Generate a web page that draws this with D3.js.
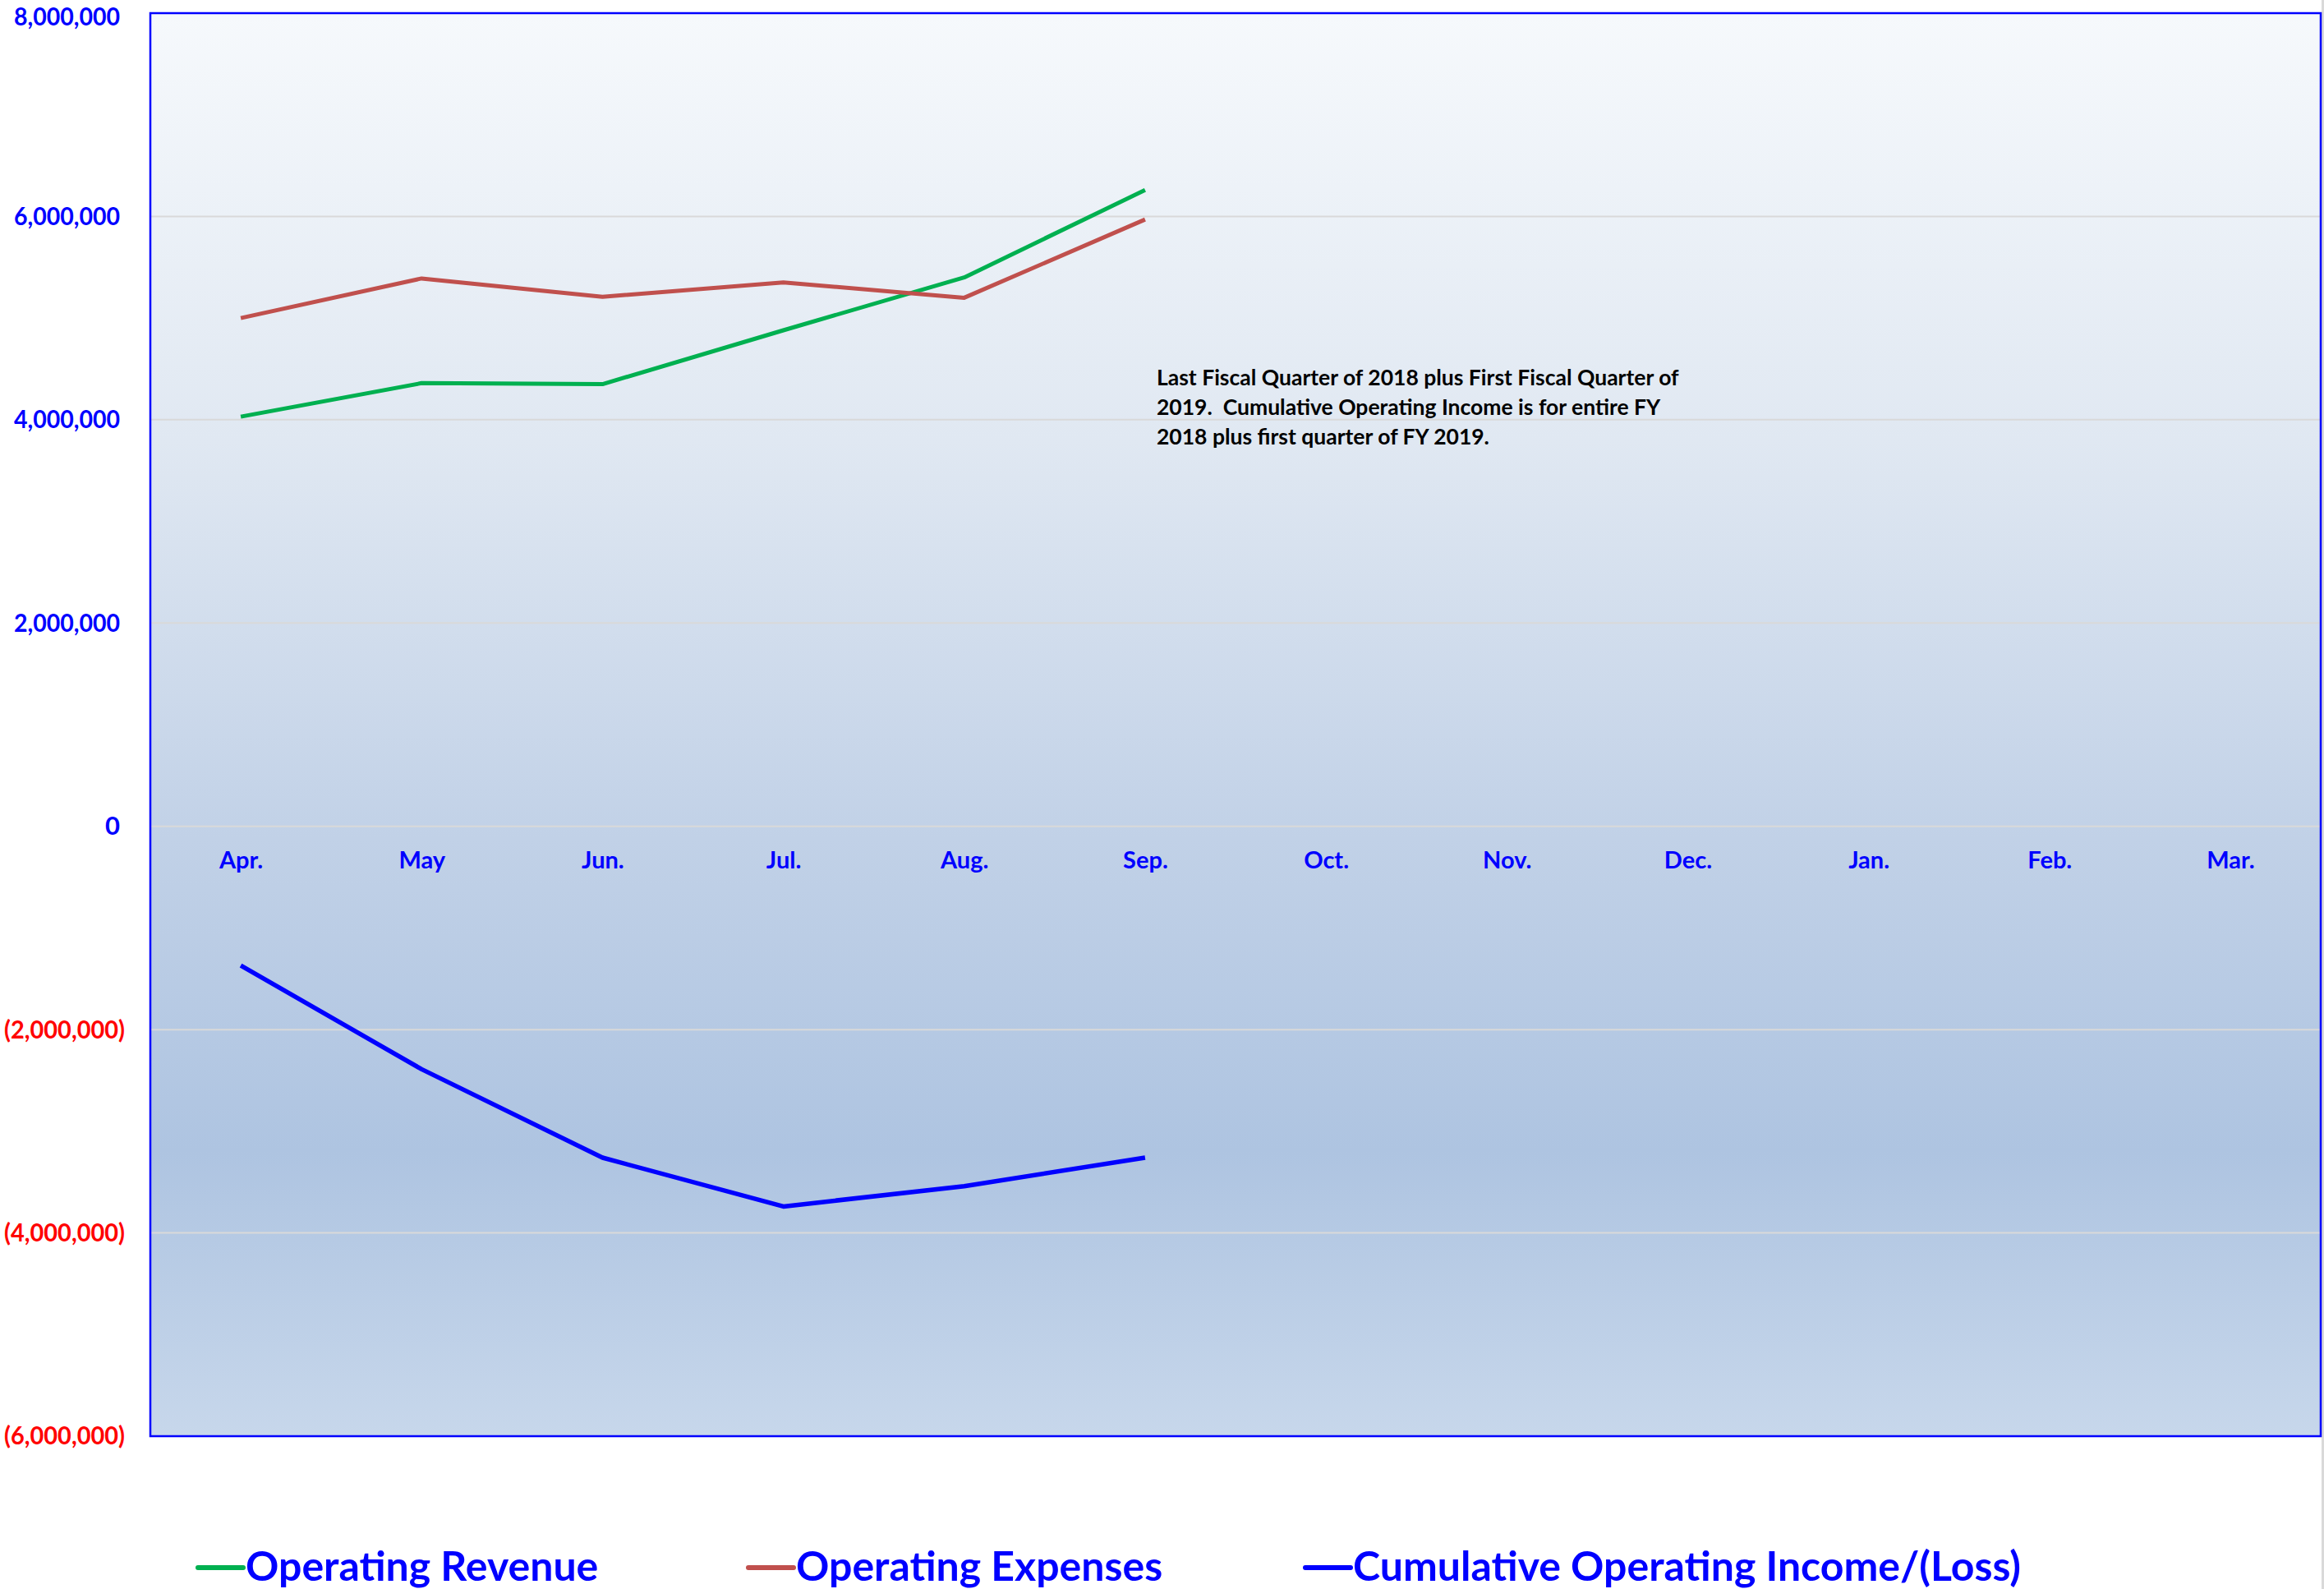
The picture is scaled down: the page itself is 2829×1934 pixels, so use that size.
<!DOCTYPE html>
<html>
<head>
<meta charset="utf-8">
<script src="https://cdn.jsdelivr.net/npm/d3@7"></script>
<style>
  body { margin: 0; background: #fff; }
  svg { display: block; font-family: Lato, 'Open Sans', sans-serif; font-weight: bold; }
</style>
</head>
<body>
<svg id="chart" width="2829" height="1934"></svg>
<script>
const months = ['Apr.', 'May', 'Jun.', 'Jul.', 'Aug.', 'Sep.', 'Oct.', 'Nov.', 'Dec.', 'Jan.', 'Feb.', 'Mar.'];
const revenue = [4030000, 4360000, 4350000, 4880000, 5400000, 6260000];
const expenses = [5000000, 5390000, 5210000, 5350000, 5200000, 5970000];
const cumulative = [-1370000, -2390000, -3260000, -3740000, -3540000, -3260000];
const yTicks = [-6000000, -4000000, -2000000, 0, 2000000, 4000000, 6000000, 8000000];
const noteLines = [
    'Last Fiscal Quarter of 2018 plus First Fiscal Quarter of',
    '2019.  Cumulative Operating Income is for entire FY',
    '2018 plus first quarter of FY 2019.',
];

const series = [
    { name: 'Operating Revenue', values: revenue, color: '#00B050', width: 5 },
    { name: 'Operating Expenses', values: expenses, color: '#C0504D', width: 5 },
    { name: 'Cumulative Operating Income/(Loss)', values: cumulative, color: '#0000FF', width: 5.5 },
];

const svg = d3.select('#chart');
const plot = { left: 183, top: 16, right: 2825, bottom: 1748 };

const xs = d3.scalePoint().domain(months).range([plot.left, plot.right]).padding(0.5);
const ys = d3.scaleLinear().domain([-6000000, 8000000]).range([plot.bottom, plot.top]);

// background gradient like the excel plot area
const grad = svg.append('defs').append('linearGradient')
    .attr('id', 'bg').attr('x1', 0).attr('y1', 0).attr('x2', 0).attr('y2', 1);
[['0', '#f6f9fc'], ['0.3', '#e0e8f2'], ['0.58', '#c1d1e7'], ['0.8', '#aec4e1'], ['1', '#c7d7eb']]
    .forEach(([o, c]) => grad.append('stop').attr('offset', o).attr('stop-color', c));

// faint shadow at right edge
svg.append('rect')
    .attr('x', 2826).attr('y', 0).attr('width', 3).attr('height', 1934)
    .attr('fill', '#d9d9d9');

svg.append('rect')
    .attr('x', plot.left).attr('y', plot.top)
    .attr('width', plot.right - plot.left).attr('height', plot.bottom - plot.top)
    .attr('fill', 'url(#bg)');

// gridlines
svg.append('g')
    .selectAll('line')
    .data(yTicks.filter(t => t > -6000000 && t < 8000000))
    .enter()
    .append('line')
    .attr('x1', plot.left).attr('x2', plot.right)
    .attr('y1', d => ys(d)).attr('y2', d => ys(d))
    .attr('stroke', '#d9d9d9').attr('stroke-width', 2);

svg.append('rect')
    .attr('x', plot.left).attr('y', plot.top)
    .attr('width', plot.right - plot.left).attr('height', plot.bottom - plot.top)
    .attr('fill', 'none').attr('stroke', '#0000FF').attr('stroke-width', 2.5);

// y axis (labels squeezed to the narrow width of the original font)
const yAxis = svg.append('g')
    .attr('transform', `translate(${plot.left},0)`)
    .call(d3.axisLeft(ys).tickValues(yTicks).tickSize(0).tickPadding(37)
        .tickFormat(d => d < 0 ? `(${d3.format(',')(-d)})` : d3.format(',')(d)));
yAxis.select('.domain').remove();
yAxis.selectAll('text')
    .attr('font-size', 31)
    .attr('font-family', 'Lato, sans-serif')
    .attr('fill', d => d < 0 ? '#FF0000' : '#0000FF')
    .each(function(d) {
        const t = d3.select(this);
        if (d < 0) {
            // negatives sit a bracket-width further right, like the excel format
            t.attr('x', -31).attr('textLength', 147).attr('lengthAdjust', 'spacingAndGlyphs');
        } else if (d > 0) {
            t.attr('textLength', 129).attr('lengthAdjust', 'spacingAndGlyphs');
        }
        if (d === 8000000) t.attr('dy', '0.48em');
    });

// x axis, labels under the zero line
const xAxis = svg.append('g')
    .attr('transform', `translate(0,${ys(0)})`)
    .call(d3.axisBottom(xs).tickSize(0).tickPadding(31));
xAxis.select('.domain').remove();
xAxis.selectAll('text')
    .attr('font-size', 29)
    .attr('font-family', 'Lato, sans-serif')
    .attr('fill', '#0000FF');

// lines
const line = d3.line()
    .x((d, i) => xs(months[i]))
    .y(d => ys(d));

svg.append('g')
    .selectAll('path')
    .data(series)
    .enter()
    .append('path')
    .attr('d', d => line(d.values))
    .attr('fill', 'none')
    .attr('stroke', d => d.color)
    .attr('stroke-width', d => d.width)
    .attr('stroke-linejoin', 'round');

// note
const note = svg.append('text')
    .attr('x', 1408).attr('y', 469)
    .attr('font-size', 26.5)
    .attr('fill', '#000');
noteLines.forEach((t, i) => {
    note.append('tspan').attr('x', 1408).attr('y', 469 + i * 36).attr('xml:space', 'preserve').text(t);
});

// legend
const legendX = [241, 911, 1589];
const legend = svg.append('g')
    .selectAll('g')
    .data(series)
    .enter()
    .append('g')
    .attr('transform', (d, i) => `translate(${legendX[i]},1908)`);
legend.append('line')
    .attr('x1', 0).attr('x2', 55).attr('y1', 0).attr('y2', 0)
    .attr('stroke', d => d.color).attr('stroke-width', 6).attr('stroke-linecap', 'round');
legend.append('text')
    .attr('x', 58).attr('y', 16)
    .attr('font-size', 50)
    .attr('fill', '#0000FF')
    .text(d => d.name);
</script>
</body>
</html>
